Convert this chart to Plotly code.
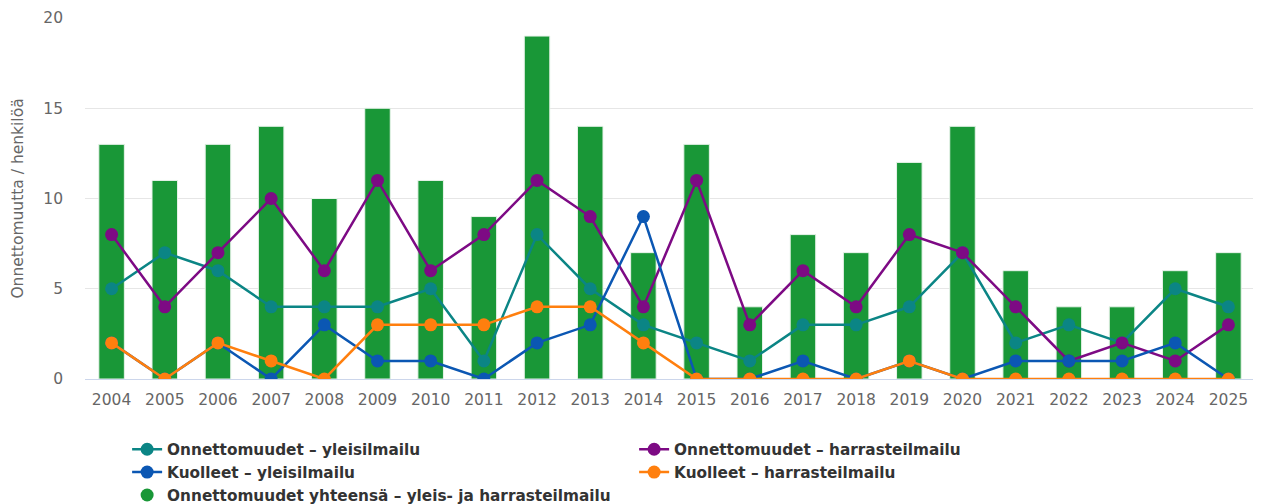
import plotly.graph_objects as go

years = [str(y) for y in range(2004, 2026)]
total = [13, 11, 13, 14, 10, 15, 11, 9, 19, 14, 7, 13, 4, 8, 7, 12, 14, 6, 4, 4, 6, 7]
onn_yleis = [5, 7, 6, 4, 4, 4, 5, 1, 8, 5, 3, 2, 1, 3, 3, 4, 7, 2, 3, 2, 5, 4]
onn_harr = [8, 4, 7, 10, 6, 11, 6, 8, 11, 9, 4, 11, 3, 6, 4, 8, 7, 4, 1, 2, 1, 3]
kuol_yleis = [2, 0, 2, 0, 3, 1, 1, 0, 2, 3, 9, 0, 0, 1, 0, 1, 0, 1, 1, 1, 2, 0]
kuol_harr = [2, 0, 2, 1, 0, 3, 3, 3, 4, 4, 2, 0, 0, 0, 0, 1, 0, 0, 0, 0, 0, 0]
y_ticks = [0, 5, 10, 15, 20]

C_TEAL = "#0b8585"
C_PURPLE = "#7d0a84"
C_BLUE = "#0b57b3"
C_ORANGE = "#ff7f0e"
C_GREEN = "#199737"

FONT = "DejaVu Sans"

fig = go.Figure()
fig.add_trace(go.Bar(
    x=years, y=total, name="Onnettomuudet yhteensä – yleis- ja harrasteilmailu",
    marker=dict(color=C_GREEN, line=dict(color="#e8f3ea", width=1)),
    width=0.48, showlegend=False, legendgroup="tot",
))

def line(y, name, color, rank):
    fig.add_trace(go.Scatter(
        x=years, y=y, name=name, mode="lines+markers",
        line=dict(color=color, width=2.5),
        marker=dict(color=color, size=13),
        legendrank=rank,
    ))

line(onn_yleis, "Onnettomuudet – yleisilmailu", C_TEAL, 1)
line(onn_harr, "Onnettomuudet – harrasteilmailu", C_PURPLE, 2)
line(kuol_yleis, "Kuolleet – yleisilmailu", C_BLUE, 3)
line(kuol_harr, "Kuolleet – harrasteilmailu", C_ORANGE, 4)

# legend entry for the bar series (circle symbol as in the original)
fig.add_trace(go.Scatter(
    x=[None], y=[None], mode="markers", name="Onnettomuudet yhteensä – yleis- ja harrasteilmailu",
    marker=dict(color=C_GREEN, size=13), legendrank=5, legendgroup="tot",
))

# page body has an 8px margin, so the figure is 8px smaller than the window
fig.update_layout(
    width=1253, height=496,
    margin=dict(l=77, r=6, t=10, b=125, autoexpand=False),
    paper_bgcolor="white", plot_bgcolor="white",
    font=dict(family=FONT, color="#666666", size=15),
    showlegend=True,
    legend=dict(
        orientation="h", x=0.036, xanchor="left", y=-0.149, yanchor="top",
        entrywidth=462, entrywidthmode="pixels",
        font=dict(family=FONT, size=15.3, color="#333333", weight="bold"),
        itemwidth=30, tracegroupgap=0,
    ),
    xaxis=dict(
        type="category", showgrid=False, showline=True, linecolor="#ccd6eb", linewidth=1,
        ticks="", tickfont=dict(size=15.5, color="#666666"), automargin=False,
        range=[-0.5, len(years) - 0.5], ticklabelstandoff=6,
    ),
    yaxis=dict(
        range=[0, 20], tickvals=y_ticks, showgrid=True, gridcolor="#e6e6e6",
        zeroline=False, showline=False, ticks="", ticklabelstandoff=21, automargin=False,
        tickfont=dict(size=15.5, color="#666666"),
        title=dict(text="Onnettomuutta / henkilöä", font=dict(size=15.5, color="#666666"), standoff=15),
    ),
)

fig.write_html("out.html")
